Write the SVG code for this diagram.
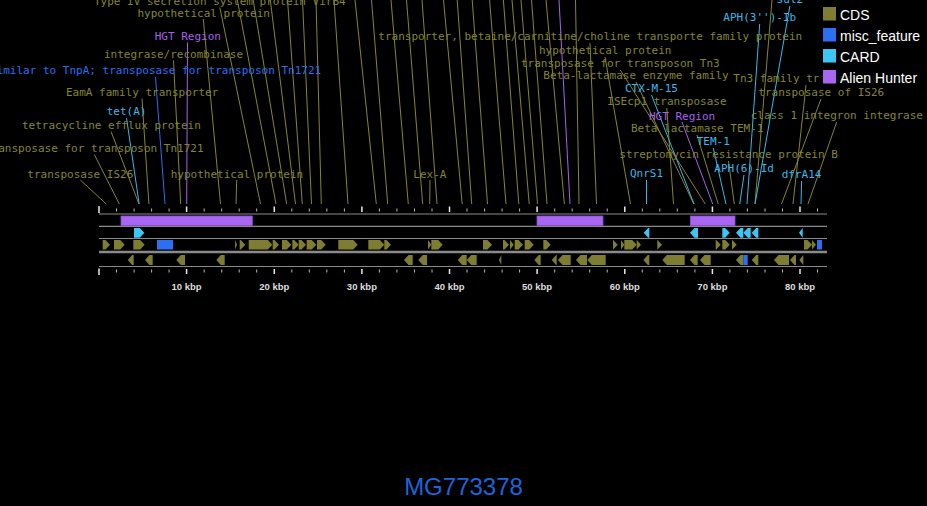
<svg xmlns="http://www.w3.org/2000/svg" width="927" height="506" viewBox="0 0 927 506">
<style>
.t{font-family:"DejaVu Sans Mono","Liberation Mono",monospace;font-size:11px}
.o{fill:#858535}.c{fill:#3ab8ea}.b{fill:#2b6ff0}.p{fill:#a662e8}
.cds{fill:#7f7d32}.card{fill:#3cc6f5}.misc{fill:#2b6ff2}.ah{fill:#a966f0;stroke:#8a4fd0;stroke-width:0.8}
.lo{stroke:#858535;stroke-width:1;fill:none}.lc{stroke:#3ab8ea;stroke-width:1;fill:none}
.lb{stroke:#2b6ff0;stroke-width:1;fill:none}.lp{stroke:#a662e8;stroke-width:1;fill:none}
.trk{stroke:#8a8a8a;stroke-width:1.2;fill:none}
.ax{font-family:"Liberation Sans",Arial,sans-serif;font-size:9.5px;font-weight:bold;fill:#dddddd;text-anchor:middle}
.lg{font-family:"Liberation Sans",Arial,sans-serif;font-size:14px;fill:#ffffff}
</style>
<rect x="0" y="0" width="927" height="506" fill="#000"/>
<g id="connectors">
<line class="lo" x1="219.8" y1="7.5" x2="260.5" y2="204"/>
<line class="lo" x1="203.3" y1="19" x2="220.5" y2="204"/>
<line class="lo" x1="173.5" y1="60.5" x2="180.7" y2="204"/>
<line class="lo" x1="142" y1="98.5" x2="148.9" y2="204"/>
<line class="lo" x1="111" y1="131.5" x2="139" y2="204"/>
<line class="lo" x1="94.3" y1="154.5" x2="119.3" y2="204"/>
<line class="lo" x1="80.3" y1="180" x2="106.3" y2="204"/>
<line class="lo" x1="236.7" y1="180" x2="236" y2="204"/>
<line class="lo" x1="237.3" y1="0" x2="276" y2="204"/>
<line class="lo" x1="253.2" y1="0" x2="286.7" y2="204"/>
<line class="lo" x1="270.3" y1="0" x2="295.5" y2="204"/>
<line class="lo" x1="287.5" y1="0" x2="302.3" y2="204"/>
<line class="lo" x1="302.5" y1="0" x2="311.5" y2="204"/>
<line class="lo" x1="316" y1="0" x2="321.3" y2="204"/>
<line class="lo" x1="334" y1="0" x2="348" y2="204"/>
<line class="lo" x1="355" y1="0" x2="376.3" y2="204"/>
<line class="lo" x1="371.5" y1="0" x2="387.7" y2="204"/>
<line class="lo" x1="391" y1="0" x2="408.3" y2="204"/>
<line class="lo" x1="406.5" y1="0" x2="422.7" y2="204"/>
<line class="lo" x1="422" y1="0" x2="437" y2="204"/>
<line class="lo" x1="443.5" y1="0" x2="462.2" y2="204"/>
<line class="lo" x1="457.2" y1="0" x2="471.7" y2="204"/>
<line class="lo" x1="472.2" y1="0" x2="487.5" y2="204"/>
<line class="lo" x1="489.6" y1="0" x2="506" y2="204"/>
<line class="lo" x1="503.4" y1="0" x2="518.8" y2="204"/>
<line class="lo" x1="512" y1="0" x2="529.2" y2="204"/>
<line class="lo" x1="521" y1="0" x2="537.5" y2="204"/>
<line class="lo" x1="531.5" y1="0" x2="547" y2="204"/>
<line class="lo" x1="546" y1="0" x2="564.4" y2="204"/>
<line class="lo" x1="575.5" y1="0" x2="579" y2="204"/>
<line class="lo" x1="430" y1="180" x2="429.7" y2="204"/>
<line class="lo" x1="590" y1="43" x2="596.5" y2="204"/>
<line class="lo" x1="605" y1="57" x2="630.5" y2="204"/>
<line class="lo" x1="620.3" y1="70" x2="705.3" y2="204"/>
<line class="lo" x1="636" y1="82" x2="693.8" y2="204"/>
<line class="lo" x1="666.8" y1="108" x2="673.5" y2="204"/>
<line class="lo" x1="806" y1="85" x2="793" y2="204"/>
<line class="lo" x1="821" y1="99" x2="781.5" y2="204"/>
<line class="lo" x1="836.7" y1="122" x2="808" y2="204"/>
<line class="lo" x1="697" y1="135" x2="718.2" y2="204"/>
<line class="lo" x1="728.5" y1="161" x2="734.3" y2="204"/>
<line class="lo" x1="772" y1="0" x2="755" y2="204"/>
<line class="lb" x1="155.5" y1="77" x2="165" y2="204"/>
<line class="lp" x1="187.5" y1="42.5" x2="186.7" y2="204"/>
<line class="lp" x1="559" y1="0" x2="570" y2="204"/>
<line class="lp" x1="682" y1="122" x2="712.7" y2="204"/>
<line class="lc" x1="126.5" y1="118" x2="139.2" y2="204"/>
<line class="lc" x1="646.5" y1="180" x2="646.5" y2="204"/>
<line class="lc" x1="651.5" y1="95" x2="694" y2="204"/>
<line class="lc" x1="713.3" y1="148" x2="726" y2="204"/>
<line class="lc" x1="744" y1="175" x2="739.7" y2="204"/>
<line class="lc" x1="759.7" y1="24" x2="747" y2="204"/>
<line class="lc" x1="789.9" y1="6" x2="755" y2="204"/>
<line class="lc" x1="801.6" y1="181" x2="801" y2="204"/>
</g>
<g id="labels">
<text id="l-virb4" class="t o" x="94" y="4.5">Type IV secretion system protein VirB4</text>
<text id="l-hyp1" class="t o" x="137.5" y="16.5">hypothetical protein</text>
<text id="l-hgt1" class="t p" x="154.7" y="40">HGT Region</text>
<text id="l-int" class="t o" x="104" y="58">integrase/recombinase</text>
<text id="l-tnpa" class="t b" x="-10" y="74">similar to TnpA; transposase for transposon Tn1721</text>
<text id="l-eama" class="t o" x="66" y="96">EamA family transporter</text>
<text id="l-teta" class="t c" x="106.7" y="115">tet(A)</text>
<text id="l-tete" class="t o" x="22" y="129">tetracycline efflux protein</text>
<text id="l-tn1721" class="t o" x="-15" y="152">transposase for transposon Tn1721</text>
<text id="l-is26a" class="t o" x="27.3" y="177.5">transposase IS26</text>
<text id="l-hyp2" class="t o" x="170.7" y="177.5">hypothetical protein</text>
<text id="l-lexa" class="t o" x="413.3" y="178">Lex-A</text>
<text id="l-betaine" class="t o" x="378.3" y="40">transporter, betaine/carnitine/choline transporte family protein</text>
<text id="l-hyp3" class="t o" x="539" y="53.5">hypothetical protein</text>
<text id="l-tn3a" class="t o" x="521" y="67">transposase for transposon Tn3</text>
<text id="l-blef" class="t o" x="543.3" y="79">Beta-lactamase enzyme family</text>
<text id="l-ctx" class="t c" x="625" y="92">CTX-M-15</text>
<text id="l-isecp1" class="t o" x="607.3" y="105.3">ISEcp1 transposase</text>
<text id="l-tn3b" class="t o" x="733.3" y="82">Tn3 family transposase</text>
<text id="l-is26b" class="t o" x="758.3" y="95.7">transposase of IS26</text>
<text id="l-aph3" class="t c" x="723.3" y="21.3">APH(3'')-Ib</text>
<text id="l-sul2" class="t c" x="776.7" y="3">sul2</text>
<text id="l-intl1" class="t o" x="750.7" y="118.7">class 1 integron integrase</text>
<text id="l-hgt2" class="t p" x="649" y="119.7">HGT Region</text>
<text id="l-tem1a" class="t o" x="631" y="132">Beta lactamase TEM-1</text>
<text id="l-tem1" class="t c" x="696.7" y="145.3">TEM-1</text>
<text id="l-strb" class="t o" x="619.3" y="158">streptomycin resistance protein B</text>
<text id="l-aph6" class="t c" x="714.3" y="172.3">APH(6)-Id</text>
<text id="l-qnr" class="t c" x="630" y="177.3">QnrS1</text>
<text id="l-dfr" class="t c" x="781.7" y="178">dfrA14</text>
</g>
<g id="ruler">
<path class="trk" d="M99 214H827M99 226.3H827M99 238.5H827M99 266.5H827"/>
<path d="M99 252H827" stroke="#8a8a8a" stroke-width="2.7"/>
<path stroke="#e8e8e8" stroke-width="1.5" d="M99 206V213M186.6 206.5V212M274.3 206.5V212M361.9 206.5V212M449.5 206.5V212M537.1 206.5V212M624.8 206.5V212M712.4 206.5V212M800 206.5V212M99 268.5V275M186.6 269V274M274.3 269V274M361.9 269V274M449.5 269V274M537.1 269V274M624.8 269V274M712.4 269V274M800 269V274"/>
<path stroke="#bbbbbb" stroke-width="1" d="M116.5 208.5V211.5M134.1 208.5V211.5M151.6 208.5V211.5M169.1 208.5V211.5M204.2 208.5V211.5M221.7 208.5V211.5M239.2 208.5V211.5M256.7 208.5V211.5M291.8 208.5V211.5M309.3 208.5V211.5M326.8 208.5V211.5M344.4 208.5V211.5M379.4 208.5V211.5M396.9 208.5V211.5M414.5 208.5V211.5M432 208.5V211.5M467 208.5V211.5M484.6 208.5V211.5M502.1 208.5V211.5M519.6 208.5V211.5M554.7 208.5V211.5M572.2 208.5V211.5M589.7 208.5V211.5M607.2 208.5V211.5M642.3 208.5V211.5M659.8 208.5V211.5M677.3 208.5V211.5M694.9 208.5V211.5M729.9 208.5V211.5M747.4 208.5V211.5M765 208.5V211.5M782.5 208.5V211.5M817.5 208.5V211.5M116.5 269.5V272.5M134.1 269.5V272.5M151.6 269.5V272.5M169.1 269.5V272.5M204.2 269.5V272.5M221.7 269.5V272.5M239.2 269.5V272.5M256.7 269.5V272.5M291.8 269.5V272.5M309.3 269.5V272.5M326.8 269.5V272.5M344.4 269.5V272.5M379.4 269.5V272.5M396.9 269.5V272.5M414.5 269.5V272.5M432 269.5V272.5M467 269.5V272.5M484.6 269.5V272.5M502.1 269.5V272.5M519.6 269.5V272.5M554.7 269.5V272.5M572.2 269.5V272.5M589.7 269.5V272.5M607.2 269.5V272.5M642.3 269.5V272.5M659.8 269.5V272.5M677.3 269.5V272.5M694.9 269.5V272.5M729.9 269.5V272.5M747.4 269.5V272.5M765 269.5V272.5M782.5 269.5V272.5M817.5 269.5V272.5"/>
<text class="ax" x="186.6" y="290">10 kbp</text>
<text class="ax" x="274.3" y="290">20 kbp</text>
<text class="ax" x="361.9" y="290">30 kbp</text>
<text class="ax" x="449.5" y="290">40 kbp</text>
<text class="ax" x="537.1" y="290">50 kbp</text>
<text class="ax" x="624.8" y="290">60 kbp</text>
<text class="ax" x="712.4" y="290">70 kbp</text>
<text class="ax" x="800" y="290">80 kbp</text>
</g>
<g id="track-alien">
<rect class="ah" x="121" y="216" width="131.3" height="9.5"/>
<rect class="ah" x="537" y="216" width="66" height="9.5"/>
<rect class="ah" x="690.3" y="216" width="44.7" height="9.5"/>
</g>
<g id="track-card" class="card">
<path d="M134 228H139.8L144.3 232.85L139.8 237.7H134Z"/>
<path d="M722.3 228H725.2L729.7 232.85L725.2 237.7H722.3Z"/>
<path d="M643.7 232.85L648.2 228H649.3V237.7H648.2Z"/>
<path d="M690 232.85L694.5 228H698V237.7H694.5Z"/>
<path d="M736 232.85L740.5 228H743.3V237.7H740.5Z"/>
<path d="M743.3 232.85L747.8 228H750.7V237.7H747.8Z"/>
<path d="M751.7 232.85L756.2 228H758.3V237.7H756.2Z"/>
<path d="M799 232.85L802.7 228V237.7Z"/>
</g>
<g id="track-cds-fwd" class="cds">
<path d="M102.7 240H105.5L110 244.75L105.5 249.5H102.7Z"/>
<path d="M114 240H120.2L124.7 244.75L120.2 249.5H114Z"/>
<path d="M133.3 240H140.2L144.7 244.75L140.2 249.5H133.3Z"/>
<path d="M235 240L237 244.75L235 249.5Z"/>
<path d="M239.7 240H240.8L245.3 244.75L240.8 249.5H239.7Z"/>
<path d="M248.7 240H267.8L272.3 244.75L267.8 249.5H248.7Z"/>
<path d="M272.7 240H274.5L279 244.75L274.5 249.5H272.7Z"/>
<path d="M282 240H286.8L291.3 244.75L286.8 249.5H282Z"/>
<path d="M292.3 240H294.2L298.7 244.75L294.2 249.5H292.3Z"/>
<path d="M298.7 240H301.5L306 244.75L301.5 249.5H298.7Z"/>
<path d="M306.7 240H311.8L316.3 244.75L311.8 249.5H306.7Z"/>
<path d="M317 240H321.2L325.7 244.75L321.2 249.5H317Z"/>
<path d="M338.3 240H353.2L357.7 244.75L353.2 249.5H338.3Z"/>
<path d="M368.3 240H379.8L384.3 244.75L379.8 249.5H368.3Z"/>
<path d="M384.3 240H386.5L391 244.75L386.5 249.5H384.3Z"/>
<path d="M428 240L431.3 244.75L428 249.5Z"/>
<path d="M431.3 240H438.2L442.7 244.75L438.2 249.5H431.3Z"/>
<path d="M483 240H487.5L492 244.75L487.5 249.5H483Z"/>
<path d="M503 240H504.5L509 244.75L504.5 249.5H503Z"/>
<path d="M510 240L513.7 244.75L510 249.5Z"/>
<path d="M514.7 240H518.5L523 244.75L518.5 249.5H514.7Z"/>
<path d="M524.7 240H529.2L533.7 244.75L529.2 249.5H524.7Z"/>
<path d="M543.3 240H546.2L550.7 244.75L546.2 249.5H543.3Z"/>
<path d="M613 240H613.2L617.7 244.75L613.2 249.5H613Z"/>
<path d="M621 240L624.3 244.75L621 249.5Z"/>
<path d="M624.3 240H632.2L636.7 244.75L632.2 249.5H624.3Z"/>
<path d="M636.7 240L641 244.75L636.7 249.5Z"/>
<path d="M657.3 240H657.5L662 244.75L657.5 249.5H657.3Z"/>
<path d="M715.7 240H716.2L720.7 244.75L716.2 249.5H715.7Z"/>
<path d="M722.3 240H725.2L729.7 244.75L725.2 249.5H722.3Z"/>
<path d="M732 240H732.2L736.7 244.75L732.2 249.5H732Z"/>
<path d="M804 240H807.5L812 244.75L807.5 249.5H804Z"/>
<path d="M812 240L816 244.75L812 249.5Z"/>
<rect class="misc" x="157" y="240" width="16" height="9.5"/>
<rect class="misc" x="817" y="240" width="5" height="9.5"/>
</g>
<g id="track-cds-rev" class="cds">
<path d="M127.7 260L132.2 255H133.7V265H132.2Z"/>
<path d="M145 260L149.5 255H152.7V265H149.5Z"/>
<path d="M176.3 260L180.8 255H185V265H180.8Z"/>
<path d="M216.3 260L220.8 255H224.7V265H220.8Z"/>
<path d="M404 260L408.5 255H412.7V265H408.5Z"/>
<path d="M418.3 260L422.8 255H427V265H422.8Z"/>
<path d="M457.7 260L462.2 255H466.7V265H462.2Z"/>
<path d="M466.7 260L471.2 255H476.7V265H471.2Z"/>
<path d="M499 260L501.3 255V265Z"/>
<path d="M534.3 260L538.8 255H540.7V265H538.8Z"/>
<path d="M551.7 260L556.2 255H556.7V265H556.2Z"/>
<path d="M558 260L562.5 255H570.7V265H562.5Z"/>
<path d="M576 260L580.5 255H587V265H580.5Z"/>
<path d="M587.3 260L591.8 255H605.7V265H591.8Z"/>
<path d="M643.3 260L647.8 255H649.3V265H647.8Z"/>
<path d="M662.3 260L666.8 255H684.7V265H666.8Z"/>
<path d="M690 260L694.5 255H697.7V265H694.5Z"/>
<path d="M700 260L704.5 255H710.7V265H704.5Z"/>
<path d="M736 260L740.5 255H743.3V265H740.5Z"/>
<path d="M751.7 260L756.2 255H758.3V265H756.2Z"/>
<path d="M774 260L778.5 255H789V265H778.5Z"/>
<path d="M790 260L794.5 255H796V265H794.5Z"/>
<path d="M799.3 260L803.3 255V265Z"/>
<rect class="misc" x="743.3" y="255" width="4.4" height="10"/>
</g>
<g id="legend">
<rect x="819" y="0" width="108" height="87" fill="#000" opacity="0.8"/>
<rect x="823" y="7" width="13" height="13.5" class="cds"/>
<rect x="823" y="28" width="13" height="13.5" class="misc"/>
<rect x="823" y="49" width="13" height="13.5" class="card"/>
<rect x="823" y="70" width="13" height="13.5" fill="#a966f0"/>
<text class="lg" x="840" y="20">CDS</text>
<text class="lg" x="840" y="41">misc_feature</text>
<text class="lg" x="840" y="62">CARD</text>
<text class="lg" x="840" y="83">Alien Hunter</text>
</g>
<text id="title" x="463.5" y="495" font-family="Liberation Sans, Arial, sans-serif" font-size="24" fill="#1e64dc" text-anchor="middle">MG773378</text>
</svg>
